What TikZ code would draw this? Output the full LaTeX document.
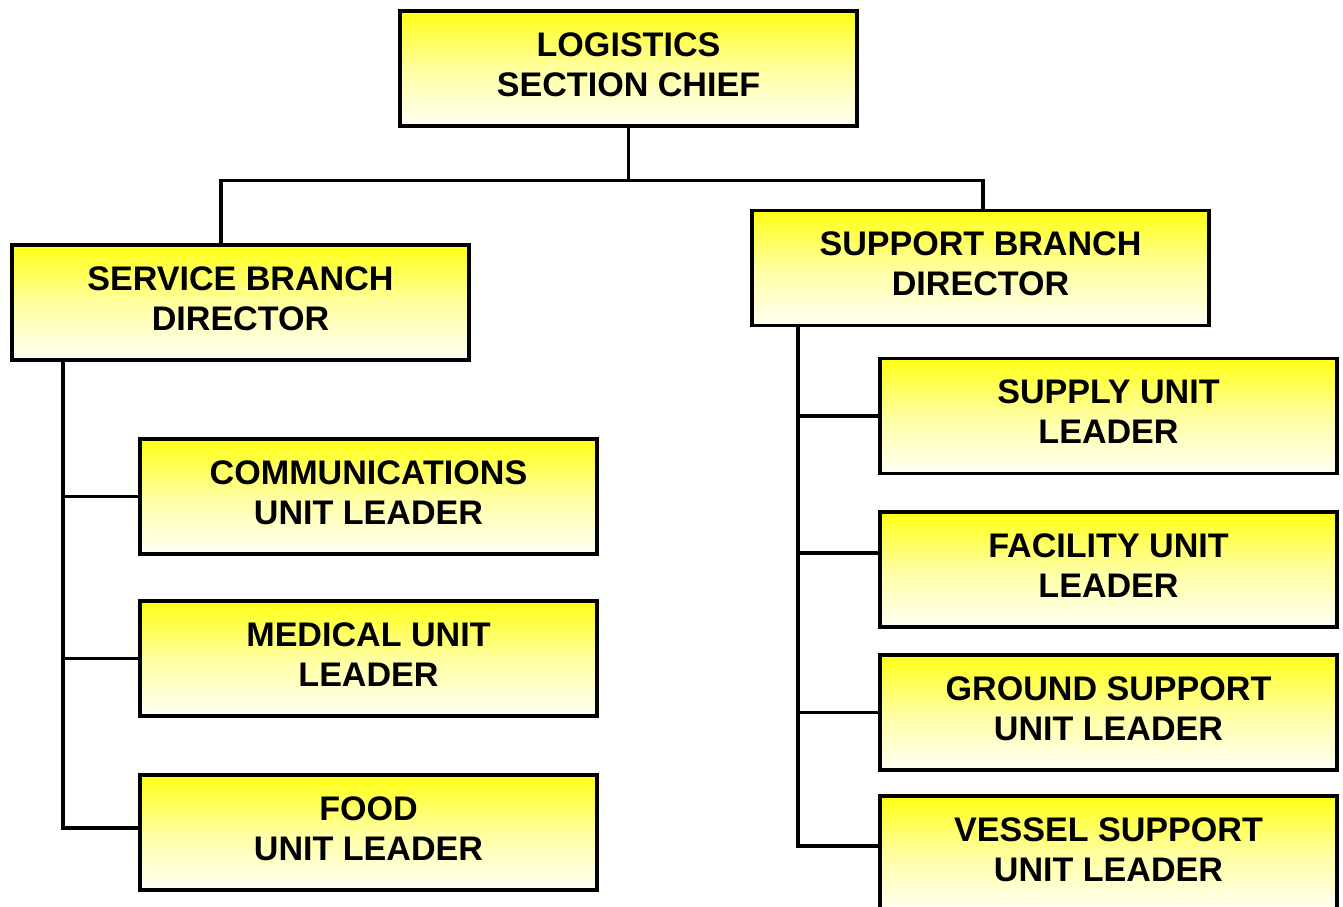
\documentclass[tikz,border=0pt]{standalone}
\usepackage{fontspec}
\setmainfont{Liberation Sans}
\definecolor{boxtop}{RGB}{255,255,20}
\definecolor{boxmid}{RGB}{255,255,160}
\definecolor{boxbot}{RGB}{255,255,245}
\tikzset{
    unit/.style={draw, line width=0.033cm, top color=boxtop, bottom color=boxbot, middle color=boxmid,
        minimum width=4.57cm, minimum height=1.15cm, inner sep=0pt, align=center,
        font=\fontsize{9.7pt}{11.4pt}\selectfont\bfseries,
        execute at end node={\rule[-0.8mm]{0pt}{0.8mm}}},
    link/.style={line width=0.033cm}
}
\begin{document}
\begin{tikzpicture}
    \useasboundingbox (0,0) rectangle (13.43,-9.07);
    \clip (0,0) rectangle (13.43,-9.07);
    % boxes
    \node[unit] (chief) at (6.285,-0.685) {LOGISTICS\\SECTION CHIEF};
    \node[unit] (service) at (2.405,-3.025) {SERVICE BRANCH\\DIRECTOR};
    \node[unit] (support) at (9.805,-2.68) {SUPPORT BRANCH\\DIRECTOR};
    \node[unit] (comm) at (3.685,-4.965) {COMMUNICATIONS\\UNIT LEADER};
    \node[unit] (medical) at (3.685,-6.585) {MEDICAL UNIT\\LEADER};
    \node[unit] (food) at (3.685,-8.325) {FOOD\\UNIT LEADER};
    \node[unit] (supply) at (11.085,-4.16) {SUPPLY UNIT\\LEADER};
    \node[unit] (facility) at (11.085,-5.695) {FACILITY UNIT\\LEADER};
    \node[unit] (ground) at (11.085,-7.125) {GROUND SUPPORT\\UNIT LEADER};
    \node[unit] (vessel) at (11.085,-8.535) {VESSEL SUPPORT\\UNIT LEADER};
    % top fork
    \draw[link] (chief.south) -- ++(0,-0.53) coordinate (fork);
    \draw[link] ([xshift=-0.195cm]service.north) |- (fork) -| ([xshift=0.025cm]support.north);
    % service branch
    \coordinate (lspine) at ([xshift=-1.775cm]service.south);
    \coordinate (foodin) at ([yshift=0.045cm]food.west);
    \draw[link] (lspine) |- (foodin);
    \draw[link] (lspine |- comm.west) -- (comm.west);
    \draw[link] (lspine |- medical.west) -- (medical.west);
    % support branch
    \coordinate (rspine) at ([xshift=-1.825cm]support.south);
    \coordinate (facin) at ([yshift=0.165cm]facility.west);
    \coordinate (vesin) at ([yshift=0.075cm]vessel.west);
    \draw[link] (rspine) |- (vesin);
    \draw[link] (rspine |- supply.west) -- (supply.west);
    \draw[link] (rspine |- facin) -- (facin);
    \draw[link] (rspine |- ground.west) -- (ground.west);
\end{tikzpicture}
\end{document}
